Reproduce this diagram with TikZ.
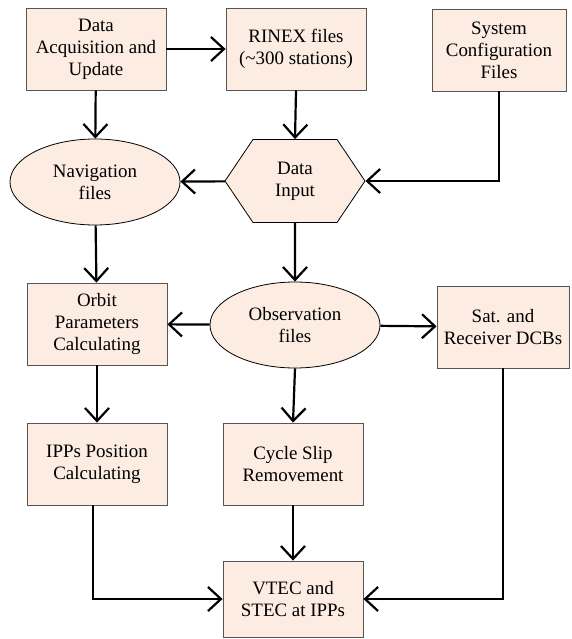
\documentclass[tikz,border=0pt]{standalone}
\usepackage{fontspec}
\setmainfont{Liberation Serif}
\usepackage{tikz}
\usetikzlibrary{shapes.geometric,shapes.symbols,arrows.meta}
\definecolor{boxfill}{RGB}{252,236,225}
\definecolor{boxline}{RGB}{85,85,85}
\tikzset{flow box/.style={
    draw=boxline,
    fill=boxfill,
    line width=0.8bp,
    minimum width=#1,
    minimum height=82bp,
    align=center,
    inner sep=0pt,
    font=\fontsize{19}{22}\selectfont
  },
  flow box/.default=140bp,
  flow oval/.style={
    ellipse,
    draw,
    fill=boxfill,
    line width=0.8bp,
    minimum width=170bp,
    minimum height=86bp,
    align=center,
    inner sep=0pt,
    font=\fontsize{19}{22}\selectfont
  },
  flow hex/.style={
    signal,
    signal to=east and west,
    signal pointer angle=112,
    draw,
    fill=boxfill,
    line width=0.8bp,
    minimum width=140bp,
    minimum height=83bp,
    align=center,
    inner sep=0pt,
    font=\fontsize{19}{22}\selectfont
  },
  flow arrow/.style={
    -{Straight Barb[length=13bp,width=24bp]},
    line width=2.2bp
  }
}

\begin{document}
\begin{tikzpicture}[x=1bp,y=-1bp]
  \useasboundingbox (0,0) rectangle (572,639);
  \node[flow box] (acq) at (96,49) {Data\\Acquisition and\\Update};
  \node[flow box] (rinex) at (296,49) {RINEX files\\(\textasciitilde300 stations)};
  \node[flow box=134bp] (sysconf) at (499,50) {System\\Configuration\\Files};
  \node[flow oval] (nav) at (95,182) {Navigation\\files};
  \node[flow hex] (input) at (295,181) {Data\\Input};
  \node[flow box] (orbit) at (97,324) {Orbit\\Parameters\\Calculating};
  \node[flow oval] (obs) at (295,325) {Observation\\files};
  \node[flow box=132bp] (dcb) at (503,327) {Sat. and\\Receiver DCBs};
  \node[flow box] (ipp) at (97,464) {IPPs Position\\Calculating};
  \node[flow box] (slip) at (293,464) {Cycle Slip\\Removement};
  \node[flow box, minimum height=76bp] (vtec) at (293,599) {VTEC and\\STEC at IPPs};

  \draw[flow arrow] (acq) -- (rinex);
  \draw[flow arrow] (acq) -- (nav);
  \draw[flow arrow] (rinex.south) -- (input.north);
  \draw[flow arrow] (sysconf.south) |- (input.east);
  \draw[flow arrow] (input) -- (nav);
  \draw[flow arrow] (nav) -- (orbit);
  \draw[flow arrow] (input) -- (obs);
  \draw[flow arrow] (obs) -- (orbit);
  \draw[flow arrow] (obs) -- (dcb);
  \draw[flow arrow] (obs.south) -- (slip.north);
  \draw[flow arrow] (orbit) -- (ipp);
  \draw[flow arrow] (slip) -- (vtec);
  \draw[flow arrow] ([xshift=-4bp]ipp.south) |- (vtec.west);
  \draw[flow arrow] (dcb.south) |- (vtec.east);
\end{tikzpicture}
\end{document}
